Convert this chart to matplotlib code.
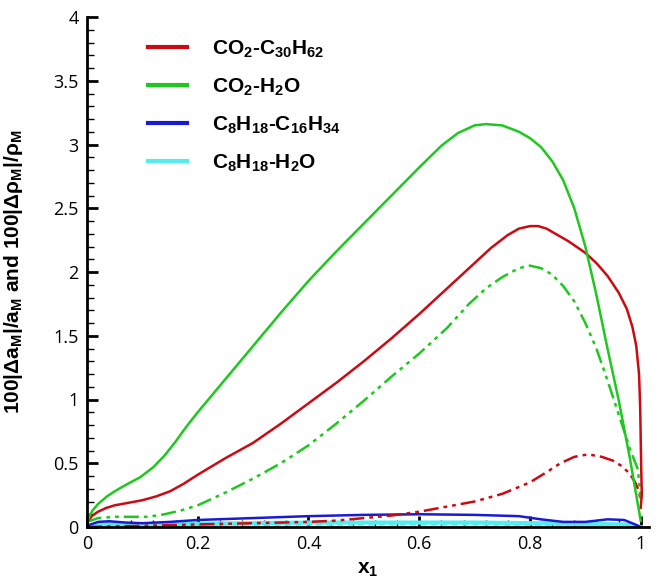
import numpy as np
import matplotlib
matplotlib.use("Agg")
import matplotlib.pyplot as plt
from matplotlib.ticker import MultipleLocator

plt.rcParams['font.family'] = ['Liberation Sans', 'DejaVu Sans']
plt.rcParams['mathtext.fontset'] = 'custom'
plt.rcParams['mathtext.rm'] = 'Liberation Sans:bold'
plt.rcParams['mathtext.it'] = 'Liberation Sans:bold'
plt.rcParams['mathtext.bf'] = 'Liberation Sans:bold'
plt.rcParams['mathtext.default'] = 'regular'

# CO2-C30H62, a_M deviation (solid)
red_x = [0.0, 0.01, 0.02, 0.035, 0.05, 0.075, 0.1, 0.125, 0.15, 0.175, 0.2, 0.25, 0.3, 0.35, 0.4, 0.45, 0.5,
         0.55, 0.6, 0.65, 0.7, 0.73, 0.76, 0.78, 0.8, 0.815, 0.83, 0.85, 0.87, 0.9, 0.92, 0.94, 0.96, 0.975,
         0.985, 0.992, 0.997, 0.999, 1.0, 1.001, 1.002, 1.0]
red_y = [0.04, 0.09, 0.12, 0.15, 0.17, 0.19, 0.21, 0.24, 0.28, 0.34, 0.41, 0.54, 0.66, 0.81, 0.97, 1.13, 1.3,
         1.48, 1.67, 1.87, 2.07, 2.19, 2.29, 2.34, 2.36, 2.36, 2.34, 2.29, 2.24, 2.15, 2.07, 1.97, 1.84, 1.71,
         1.57, 1.42, 1.2, 0.95, 0.7, 0.45, 0.25, 0.15]
# CO2-C30H62, rho_M deviation (dash-dot-dot)
red2_x = [0.0, 0.1, 0.2, 0.3, 0.4, 0.45, 0.5, 0.55, 0.6, 0.65, 0.7, 0.75, 0.8, 0.83, 0.855, 0.88, 0.905,
          0.93, 0.95, 0.965, 0.98, 0.99, 0.997, 1.0]
red2_y = [0.0, 0.01, 0.02, 0.03, 0.04, 0.05, 0.07, 0.09, 0.12, 0.16, 0.2, 0.26, 0.35, 0.43, 0.5, 0.55, 0.57,
          0.55, 0.52, 0.48, 0.42, 0.35, 0.28, 0.2]
# CO2-H2O, a_M deviation (solid)
green_x = [0.0, 0.005, 0.01, 0.02, 0.036, 0.05, 0.07, 0.096, 0.12, 0.14, 0.16, 0.18, 0.2, 0.25, 0.3, 0.35,
           0.4, 0.45, 0.5, 0.55, 0.6, 0.64, 0.67, 0.7, 0.72, 0.75, 0.78, 0.8, 0.82, 0.84, 0.86, 0.88, 0.9,
           0.92, 0.94, 0.96, 0.98, 0.99, 1.0]
green_y = [0.03, 0.09, 0.13, 0.18, 0.24, 0.28, 0.33, 0.39, 0.47, 0.56, 0.67, 0.79, 0.9, 1.16, 1.42, 1.68,
           1.93, 2.16, 2.38, 2.6, 2.82, 2.99, 3.09, 3.15, 3.16, 3.15, 3.1, 3.05, 2.98, 2.87, 2.72, 2.5, 2.2,
           1.82, 1.4, 1.0, 0.55, 0.3, 0.05]
# CO2-H2O, rho_M deviation (dash-dot-dot)
green2_x = [0.0, 0.02, 0.05, 0.08, 0.11, 0.14, 0.17, 0.2, 0.25, 0.3, 0.35, 0.4, 0.45, 0.5, 0.55, 0.6, 0.65,
            0.69, 0.72, 0.75, 0.78, 0.8, 0.82, 0.84, 0.86, 0.88, 0.9, 0.92, 0.94, 0.962, 0.98, 0.995, 1.0]
green2_y = [0.04, 0.07, 0.08, 0.08, 0.08, 0.1, 0.13, 0.17, 0.27, 0.38, 0.5, 0.64, 0.81, 0.99, 1.18, 1.36, 1.56,
            1.75, 1.87, 1.96, 2.03, 2.05, 2.03, 1.98, 1.89, 1.77, 1.6, 1.4, 1.15, 0.86, 0.62, 0.45, 0.22]
# C8H18-C16H34 (solid)
blue_x = [0.0, 0.02, 0.04, 0.07, 0.1, 0.15, 0.2, 0.3, 0.4, 0.5, 0.6, 0.7, 0.78, 0.82, 0.86, 0.9, 0.94, 0.97, 0.99, 1.0]
blue_y = [0.01, 0.04, 0.045, 0.035, 0.03, 0.04, 0.055, 0.07, 0.085, 0.095, 0.1, 0.095, 0.085, 0.06, 0.04, 0.04, 0.06, 0.055, 0.02, 0.0]
# C8H18-H2O (solid and dashed)
cyan_x = [0.0, 0.05, 0.1, 0.2, 0.3, 0.4, 0.5, 0.6, 0.7, 0.8, 0.9, 0.97, 1.0]
cyan_y = [0.01, 0.025, 0.02, 0.025, 0.03, 0.035, 0.035, 0.035, 0.035, 0.03, 0.025, 0.02, 0.0]
cyan2_y = [0.005, 0.012, 0.01, 0.012, 0.015, 0.018, 0.018, 0.018, 0.018, 0.015, 0.012, 0.01, 0.0]

red = '#cc0a14'
green = '#1ec81e'
blue = '#1a1ad2'
cyan = '#55eef0'

fig = plt.figure(figsize=(6.6, 5.86), dpi=100)
ax = fig.add_axes([87 / 660, 59 / 586, 562 / 660, 510 / 586])

dd = (0, (6, 2, 1.5, 2, 1.5, 2))
ax.plot(cyan_x, cyan_y, color=cyan, lw=3, label='C$_8$H$_{18}$-H$_2$O')
ax.plot(cyan_x, cyan2_y, color=cyan, lw=1.5, ls=(0, (3, 2)))
ax.plot(blue_x, blue_y, color=blue, lw=1.8, label='C$_8$H$_{18}$-C$_{16}$H$_{34}$')
ax.plot(red2_x, red2_y, color=red, lw=1.8, ls=dd)
ax.plot(green2_x, green2_y, color=green, lw=1.8, ls=dd)
ax.plot(red_x, red_y, color=red, lw=1.8, label='CO$_2$-C$_{30}$H$_{62}$')
ax.plot(green_x, green_y, color=green, lw=1.8, label='CO$_2$-H$_2$O')

ax.set_xlim(0, 1.015)
ax.set_ylim(0, 4)
for s in ['top', 'right']:
    ax.spines[s].set_visible(False)
for s in ['left', 'bottom']:
    ax.spines[s].set_linewidth(2)

ax.set_xticks([0, 0.2, 0.4, 0.6, 0.8, 1.0], ['0', '0.2', '0.4', '0.6', '0.8', '1'])
ax.set_yticks([0, 0.5, 1, 1.5, 2, 2.5, 3, 3.5, 4], ['0', '0.5', '1', '1.5', '2', '2.5', '3', '3.5', '4'])
ax.xaxis.set_minor_locator(MultipleLocator(0.04))
ax.yaxis.set_minor_locator(MultipleLocator(0.1))
ax.tick_params(which='major', direction='in', length=8, width=2, labelsize=13, pad=6)
ax.tick_params(which='minor', direction='in', length=5, width=1)
for lab in ax.get_xticklabels() + ax.get_yticklabels():
    lab.set_family(['Open Sans', 'DejaVu Sans'])

ax.set_xlabel('x$_1$', fontsize=15, fontweight='bold')
ax.set_ylabel('100|$\\Delta$a$_M$|/a$_M$ and 100|$\\Delta$$\\rho$$_M$|/$\\rho$$_M$',
              fontsize=15, fontweight='bold')
ax.xaxis.set_label_coords(0.5, -0.065)
ax.yaxis.set_label_coords(-0.11, 0.5)

h, l = ax.get_legend_handles_labels()
order = [2, 3, 1, 0]
leg = ax.legend([h[i] for i in order], [l[i] for i in order], loc='upper left',
                bbox_to_anchor=(0.075, 0.995), frameon=False, fontsize=15,
                handlelength=1.9, handletextpad=1.2, labelspacing=0.8)
for t in leg.get_texts():
    t.set_fontweight('bold')
for ln in leg.get_lines():
    ln.set_linewidth(3)

fig.savefig('out.png', dpi=100)
